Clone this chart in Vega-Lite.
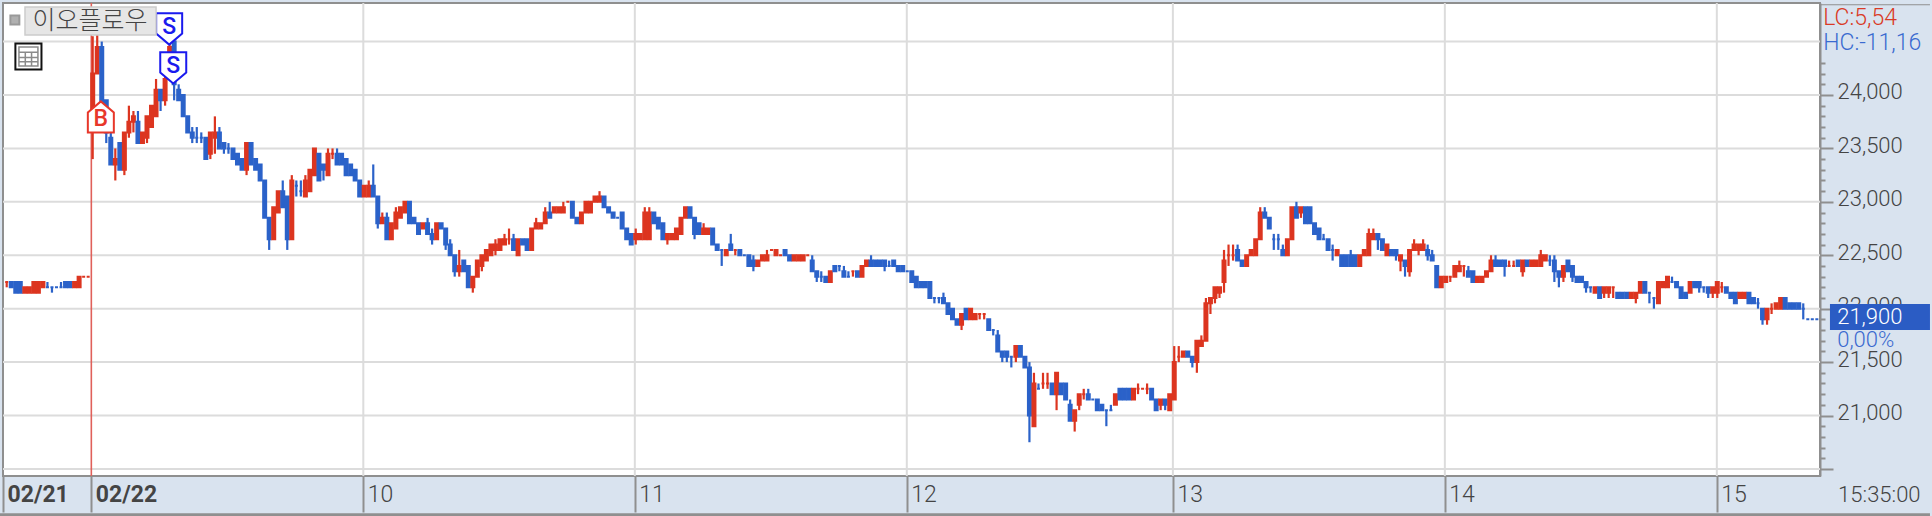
{"$schema":"https://vega.github.io/schema/vega-lite/v6.json","width":1817,"height":473,"autosize":"none","padding":{"left":3,"top":3,"right":112,"bottom":40},"background":"#d9e3ef","config":{"view":{"fill":"#ffffff","stroke":"#8f8f8f","strokeWidth":2}},
"datasets":{"candles":[
{"t":-19,"o":22250,"h":22250,"l":22200,"c":22250,"d":"u"},{"t":-18,"o":22250,"h":22250,"l":22200,"c":22200,"d":"d"},{"t":-17,"o":22250,"h":22250,"l":22150,"c":22150,"d":"d"},{"t":-16,"o":22250,"h":22250,"l":22150,"c":22150,"d":"d"},{"t":-15,"o":22150,"h":22200,"l":22150,"c":22200,"d":"u"},{"t":-14,"o":22150,"h":22200,"l":22150,"c":22200,"d":"u"},{"t":-13,"o":22150,"h":22250,"l":22150,"c":22250,"d":"u"},{"t":-12,"o":22150,"h":22250,"l":22150,"c":22250,"d":"u"},{"t":-11,"o":22200,"h":22250,"l":22200,"c":22250,"d":"u"},{"t":-10,"o":22200,"h":22250,"l":22200,"c":22200,"d":"d"},{"t":-9,"o":22200,"h":22200,"l":22150,"c":22200,"d":"d"},{"t":-8,"o":22200,"h":22200,"l":22200,"c":22200,"d":"d"},{"t":-7,"o":22200,"h":22250,"l":22200,"c":22200,"d":"d"},{"t":-6,"o":22250,"h":22250,"l":22200,"c":22200,"d":"d"},{"t":-5,"o":22250,"h":22250,"l":22200,"c":22200,"d":"d"},{"t":-4,"o":22200,"h":22250,"l":22200,"c":22250,"d":"u"},{"t":-3,"o":22200,"h":22300,"l":22200,"c":22300,"d":"u"},{"t":-2,"o":22300,"h":22300,"l":22300,"c":22300,"d":"u"},{"t":-1,"o":22300,"h":22300,"l":22300,"c":22300,"d":"u"},
{"t":0,"o":23700,"h":24550,"l":23400,"c":24200,"d":"u"},{"t":1,"o":24200,"h":24650,"l":24200,"c":24450,"d":"u"},{"t":2,"o":24450,"h":24500,"l":23900,"c":23900,"d":"d"},{"t":3,"o":23950,"h":23950,"l":23550,"c":23650,"d":"d"},{"t":4,"o":23600,"h":23650,"l":23350,"c":23350,"d":"d"},{"t":5,"o":23350,"h":23500,"l":23200,"c":23400,"d":"u"},{"t":6,"o":23550,"h":23550,"l":23300,"c":23300,"d":"d"},{"t":7,"o":23300,"h":23650,"l":23250,"c":23650,"d":"u"},{"t":8,"o":23650,"h":23900,"l":23600,"c":23750,"d":"u"},{"t":9,"o":23750,"h":23850,"l":23650,"c":23800,"d":"u"},
{"t":10,"o":23750,"h":23850,"l":23550,"c":23550,"d":"d"},{"t":11,"o":23550,"h":23650,"l":23550,"c":23650,"d":"u"},{"t":12,"o":23600,"h":23800,"l":23550,"c":23800,"d":"u"},{"t":13,"o":23700,"h":23900,"l":23700,"c":23900,"d":"u"},{"t":14,"o":23800,"h":24150,"l":23800,"c":24050,"d":"u"},{"t":15,"o":24050,"h":24050,"l":23850,"c":23950,"d":"d"},{"t":16,"o":23950,"h":24200,"l":23900,"c":24150,"d":"u"},{"t":17,"o":24150,"h":24500,"l":24150,"c":24450,"d":"u"},{"t":18,"o":24500,"h":24500,"l":23950,"c":24100,"d":"d"},{"t":19,"o":24050,"h":24100,"l":23950,"c":23950,"d":"d"},
{"t":20,"o":24000,"h":24000,"l":23800,"c":23800,"d":"d"},{"t":21,"o":23800,"h":23800,"l":23650,"c":23650,"d":"d"},{"t":22,"o":23650,"h":23700,"l":23550,"c":23600,"d":"d"},{"t":23,"o":23600,"h":23700,"l":23550,"c":23600,"d":"d"},{"t":24,"o":23600,"h":23650,"l":23550,"c":23600,"d":"d"},{"t":25,"o":23600,"h":23600,"l":23400,"c":23400,"d":"d"},{"t":26,"o":23450,"h":23650,"l":23400,"c":23650,"d":"u"},{"t":27,"o":23600,"h":23800,"l":23450,"c":23650,"d":"u"},{"t":28,"o":23650,"h":23700,"l":23500,"c":23500,"d":"d"},{"t":29,"o":23550,"h":23550,"l":23450,"c":23500,"d":"d"},
{"t":30,"o":23500,"h":23550,"l":23450,"c":23500,"d":"d"},{"t":31,"o":23500,"h":23500,"l":23400,"c":23400,"d":"d"},{"t":32,"o":23450,"h":23450,"l":23350,"c":23350,"d":"d"},{"t":33,"o":23400,"h":23400,"l":23300,"c":23300,"d":"d"},{"t":34,"o":23300,"h":23550,"l":23250,"c":23550,"d":"u"},{"t":35,"o":23550,"h":23550,"l":23350,"c":23350,"d":"d"},{"t":36,"o":23400,"h":23400,"l":23300,"c":23300,"d":"d"},{"t":37,"o":23350,"h":23350,"l":23200,"c":23200,"d":"d"},{"t":38,"o":23200,"h":23200,"l":22850,"c":22850,"d":"d"},{"t":39,"o":22850,"h":22850,"l":22550,"c":22650,"d":"d"},
{"t":40,"o":22650,"h":22950,"l":22650,"c":22950,"d":"u"},{"t":41,"o":22900,"h":23100,"l":22900,"c":23100,"d":"u"},{"t":42,"o":23100,"h":23200,"l":22950,"c":22950,"d":"d"},{"t":43,"o":23050,"h":23050,"l":22550,"c":22650,"d":"d"},{"t":44,"o":22650,"h":23250,"l":22650,"c":23200,"d":"u"},{"t":45,"o":23150,"h":23200,"l":23050,"c":23150,"d":"d"},{"t":46,"o":23100,"h":23200,"l":23050,"c":23100,"d":"d"},{"t":47,"o":23050,"h":23250,"l":23050,"c":23200,"d":"u"},{"t":48,"o":23100,"h":23300,"l":23100,"c":23300,"d":"u"},{"t":49,"o":23250,"h":23500,"l":23250,"c":23500,"d":"u"},
{"t":50,"o":23450,"h":23450,"l":23200,"c":23200,"d":"d"},{"t":51,"o":23350,"h":23350,"l":23200,"c":23300,"d":"d"},{"t":52,"o":23250,"h":23500,"l":23250,"c":23450,"d":"u"},{"t":53,"o":23450,"h":23500,"l":23400,"c":23450,"d":"u"},{"t":54,"o":23450,"h":23500,"l":23350,"c":23350,"d":"d"},{"t":55,"o":23450,"h":23450,"l":23350,"c":23350,"d":"d"},{"t":56,"o":23400,"h":23400,"l":23250,"c":23250,"d":"d"},{"t":57,"o":23350,"h":23350,"l":23250,"c":23250,"d":"d"},{"t":58,"o":23300,"h":23300,"l":23200,"c":23200,"d":"d"},{"t":59,"o":23200,"h":23200,"l":23050,"c":23050,"d":"d"},
{"t":60,"o":23050,"h":23150,"l":23050,"c":23150,"d":"u"},{"t":61,"o":23050,"h":23200,"l":23050,"c":23150,"d":"u"},{"t":62,"o":23150,"h":23350,"l":23050,"c":23050,"d":"d"},{"t":63,"o":23050,"h":23050,"l":22750,"c":22800,"d":"d"},{"t":64,"o":22800,"h":22900,"l":22800,"c":22850,"d":"u"},{"t":65,"o":22850,"h":22900,"l":22650,"c":22650,"d":"d"},{"t":66,"o":22650,"h":22800,"l":22650,"c":22800,"d":"u"},{"t":67,"o":22750,"h":22950,"l":22750,"c":22900,"d":"u"},{"t":68,"o":22850,"h":22950,"l":22850,"c":22950,"d":"u"},{"t":69,"o":22900,"h":23000,"l":22900,"c":23000,"d":"u"},
{"t":70,"o":23000,"h":23000,"l":22800,"c":22800,"d":"d"},{"t":71,"o":22850,"h":22850,"l":22800,"c":22800,"d":"d"},{"t":72,"o":22800,"h":22800,"l":22700,"c":22700,"d":"d"},{"t":73,"o":22750,"h":22800,"l":22750,"c":22800,"d":"u"},{"t":74,"o":22800,"h":22850,"l":22700,"c":22700,"d":"d"},{"t":75,"o":22700,"h":22750,"l":22600,"c":22650,"d":"d"},{"t":76,"o":22650,"h":22800,"l":22650,"c":22800,"d":"u"},{"t":77,"o":22800,"h":22800,"l":22750,"c":22750,"d":"d"},{"t":78,"o":22750,"h":22750,"l":22550,"c":22600,"d":"d"},{"t":79,"o":22600,"h":22650,"l":22500,"c":22500,"d":"d"},
{"t":80,"o":22500,"h":22500,"l":22300,"c":22350,"d":"d"},{"t":81,"o":22350,"h":22550,"l":22300,"c":22400,"d":"u"},{"t":82,"o":22450,"h":22450,"l":22350,"c":22350,"d":"d"},{"t":83,"o":22400,"h":22400,"l":22200,"c":22200,"d":"d"},{"t":84,"o":22200,"h":22300,"l":22150,"c":22300,"d":"u"},{"t":85,"o":22300,"h":22450,"l":22300,"c":22450,"d":"u"},{"t":86,"o":22400,"h":22500,"l":22350,"c":22500,"d":"u"},{"t":87,"o":22450,"h":22550,"l":22450,"c":22550,"d":"u"},{"t":88,"o":22500,"h":22600,"l":22500,"c":22600,"d":"u"},{"t":89,"o":22550,"h":22650,"l":22500,"c":22600,"d":"u"},
{"t":90,"o":22550,"h":22650,"l":22550,"c":22650,"d":"u"},{"t":91,"o":22600,"h":22700,"l":22600,"c":22650,"d":"u"},{"t":92,"o":22650,"h":22750,"l":22600,"c":22650,"d":"u"},{"t":93,"o":22650,"h":22700,"l":22550,"c":22550,"d":"d"},{"t":94,"o":22500,"h":22650,"l":22500,"c":22650,"d":"u"},{"t":95,"o":22650,"h":22650,"l":22600,"c":22600,"d":"d"},{"t":96,"o":22650,"h":22650,"l":22550,"c":22550,"d":"d"},{"t":97,"o":22550,"h":22750,"l":22550,"c":22750,"d":"u"},{"t":98,"o":22750,"h":22850,"l":22750,"c":22800,"d":"u"},{"t":99,"o":22750,"h":22800,"l":22750,"c":22800,"d":"u"},
{"t":100,"o":22800,"h":22950,"l":22800,"c":22900,"d":"u"},{"t":101,"o":22900,"h":23000,"l":22850,"c":22850,"d":"d"},{"t":102,"o":22900,"h":22950,"l":22900,"c":22950,"d":"u"},{"t":103,"o":22900,"h":22950,"l":22900,"c":22950,"d":"u"},{"t":104,"o":22900,"h":23000,"l":22900,"c":22950,"d":"u"},{"t":105,"o":23000,"h":23000,"l":23000,"c":23000,"d":"u"},{"t":106,"o":23000,"h":23000,"l":22850,"c":22850,"d":"d"},{"t":107,"o":22850,"h":22850,"l":22800,"c":22800,"d":"d"},{"t":108,"o":22800,"h":22900,"l":22800,"c":22900,"d":"u"},{"t":109,"o":22900,"h":23000,"l":22900,"c":23000,"d":"u"},
{"t":110,"o":22900,"h":23000,"l":22900,"c":23000,"d":"u"},{"t":111,"o":23000,"h":23050,"l":23000,"c":23050,"d":"u"},{"t":112,"o":23000,"h":23100,"l":23000,"c":23050,"d":"u"},{"t":113,"o":23050,"h":23050,"l":22950,"c":22950,"d":"d"},{"t":114,"o":22950,"h":22950,"l":22900,"c":22900,"d":"d"},{"t":115,"o":22900,"h":22900,"l":22850,"c":22850,"d":"d"},{"t":116,"o":22850,"h":22850,"l":22850,"c":22850,"d":"d"},{"t":117,"o":22900,"h":22900,"l":22750,"c":22750,"d":"d"},{"t":118,"o":22750,"h":22750,"l":22650,"c":22650,"d":"d"},{"t":119,"o":22700,"h":22700,"l":22600,"c":22600,"d":"d"},
{"t":120,"o":22650,"h":22750,"l":22600,"c":22700,"d":"u"},{"t":121,"o":22650,"h":22700,"l":22650,"c":22700,"d":"u"},{"t":122,"o":22650,"h":22950,"l":22650,"c":22900,"d":"u"},{"t":123,"o":22650,"h":22950,"l":22650,"c":22900,"d":"u"},{"t":124,"o":22900,"h":22900,"l":22800,"c":22800,"d":"d"},{"t":125,"o":22850,"h":22850,"l":22750,"c":22750,"d":"d"},{"t":126,"o":22800,"h":22800,"l":22650,"c":22650,"d":"d"},{"t":127,"o":22650,"h":22700,"l":22600,"c":22700,"d":"u"},{"t":128,"o":22650,"h":22700,"l":22650,"c":22700,"d":"u"},{"t":129,"o":22650,"h":22750,"l":22650,"c":22750,"d":"u"},
{"t":130,"o":22700,"h":22850,"l":22700,"c":22850,"d":"u"},{"t":131,"o":22850,"h":22950,"l":22850,"c":22950,"d":"u"},{"t":132,"o":22950,"h":22950,"l":22850,"c":22850,"d":"d"},{"t":133,"o":22850,"h":22850,"l":22650,"c":22700,"d":"d"},{"t":134,"o":22800,"h":22800,"l":22700,"c":22700,"d":"d"},{"t":135,"o":22700,"h":22800,"l":22700,"c":22750,"d":"u"},{"t":136,"o":22700,"h":22750,"l":22700,"c":22750,"d":"u"},{"t":137,"o":22750,"h":22750,"l":22600,"c":22600,"d":"d"},{"t":138,"o":22600,"h":22600,"l":22550,"c":22550,"d":"d"},{"t":139,"o":22550,"h":22550,"l":22400,"c":22550,"d":"d"},
{"t":140,"o":22500,"h":22550,"l":22500,"c":22550,"d":"u"},{"t":141,"o":22600,"h":22700,"l":22550,"c":22550,"d":"d"},{"t":142,"o":22550,"h":22550,"l":22500,"c":22550,"d":"u"},{"t":143,"o":22550,"h":22550,"l":22500,"c":22500,"d":"d"},{"t":144,"o":22500,"h":22500,"l":22500,"c":22500,"d":"d"},{"t":145,"o":22500,"h":22500,"l":22400,"c":22400,"d":"d"},{"t":146,"o":22450,"h":22500,"l":22350,"c":22400,"d":"d"},{"t":147,"o":22400,"h":22450,"l":22400,"c":22450,"d":"u"},{"t":148,"o":22450,"h":22500,"l":22450,"c":22500,"d":"u"},{"t":149,"o":22450,"h":22550,"l":22450,"c":22500,"d":"u"},
{"t":150,"o":22550,"h":22550,"l":22550,"c":22550,"d":"u"},{"t":151,"o":22500,"h":22550,"l":22500,"c":22550,"d":"u"},{"t":152,"o":22500,"h":22500,"l":22500,"c":22500,"d":"u"},{"t":153,"o":22550,"h":22550,"l":22500,"c":22500,"d":"d"},{"t":154,"o":22500,"h":22500,"l":22450,"c":22450,"d":"d"},{"t":155,"o":22450,"h":22500,"l":22450,"c":22500,"d":"u"},{"t":156,"o":22450,"h":22500,"l":22450,"c":22500,"d":"u"},{"t":157,"o":22450,"h":22500,"l":22450,"c":22500,"d":"u"},{"t":158,"o":22500,"h":22500,"l":22500,"c":22500,"d":"u"},{"t":159,"o":22450,"h":22500,"l":22350,"c":22350,"d":"d"},
{"t":160,"o":22350,"h":22350,"l":22250,"c":22300,"d":"d"},{"t":161,"o":22300,"h":22350,"l":22250,"c":22300,"d":"d"},{"t":162,"o":22300,"h":22300,"l":22250,"c":22250,"d":"d"},{"t":163,"o":22250,"h":22350,"l":22250,"c":22350,"d":"u"},{"t":164,"o":22400,"h":22400,"l":22350,"c":22350,"d":"d"},{"t":165,"o":22400,"h":22400,"l":22350,"c":22400,"d":"d"},{"t":166,"o":22350,"h":22400,"l":22300,"c":22300,"d":"d"},{"t":167,"o":22300,"h":22350,"l":22300,"c":22300,"d":"d"},{"t":168,"o":22350,"h":22350,"l":22300,"c":22350,"d":"u"},{"t":169,"o":22350,"h":22350,"l":22300,"c":22300,"d":"d"},
{"t":170,"o":22300,"h":22400,"l":22300,"c":22400,"d":"u"},{"t":171,"o":22400,"h":22450,"l":22400,"c":22450,"d":"u"},{"t":172,"o":22450,"h":22500,"l":22400,"c":22400,"d":"d"},{"t":173,"o":22450,"h":22450,"l":22400,"c":22400,"d":"d"},{"t":174,"o":22450,"h":22450,"l":22400,"c":22400,"d":"d"},{"t":175,"o":22450,"h":22450,"l":22350,"c":22400,"d":"d"},{"t":176,"o":22400,"h":22450,"l":22400,"c":22400,"d":"d"},{"t":177,"o":22450,"h":22450,"l":22400,"c":22400,"d":"d"},{"t":178,"o":22400,"h":22400,"l":22350,"c":22350,"d":"d"},{"t":179,"o":22400,"h":22400,"l":22350,"c":22350,"d":"d"},
{"t":180,"o":22350,"h":22350,"l":22350,"c":22350,"d":"d"},{"t":181,"o":22350,"h":22350,"l":22250,"c":22250,"d":"d"},{"t":182,"o":22300,"h":22300,"l":22200,"c":22200,"d":"d"},{"t":183,"o":22250,"h":22250,"l":22200,"c":22200,"d":"d"},{"t":184,"o":22250,"h":22250,"l":22200,"c":22200,"d":"d"},{"t":185,"o":22250,"h":22250,"l":22100,"c":22100,"d":"d"},{"t":186,"o":22100,"h":22100,"l":22050,"c":22100,"d":"d"},{"t":187,"o":22100,"h":22100,"l":22050,"c":22100,"d":"d"},{"t":188,"o":22100,"h":22150,"l":22050,"c":22050,"d":"d"},{"t":189,"o":22050,"h":22050,"l":21950,"c":21950,"d":"d"},
{"t":190,"o":22000,"h":22000,"l":21900,"c":21900,"d":"d"},{"t":191,"o":21900,"h":21900,"l":21850,"c":21850,"d":"d"},{"t":192,"o":21850,"h":21950,"l":21800,"c":21950,"d":"u"},{"t":193,"o":22000,"h":22000,"l":21900,"c":21900,"d":"d"},{"t":194,"o":21900,"h":22000,"l":21900,"c":22000,"d":"u"},{"t":195,"o":21900,"h":21950,"l":21900,"c":21950,"d":"u"},{"t":196,"o":21950,"h":21950,"l":21900,"c":21950,"d":"u"},{"t":197,"o":21950,"h":21950,"l":21900,"c":21950,"d":"u"},{"t":198,"o":21900,"h":21900,"l":21800,"c":21800,"d":"d"},{"t":199,"o":21800,"h":21800,"l":21750,"c":21800,"d":"d"},
{"t":200,"o":21750,"h":21800,"l":21600,"c":21600,"d":"d"},{"t":201,"o":21600,"h":21600,"l":21500,"c":21550,"d":"d"},{"t":202,"o":21600,"h":21600,"l":21500,"c":21550,"d":"d"},{"t":203,"o":21550,"h":21550,"l":21450,"c":21550,"d":"d"},{"t":204,"o":21550,"h":21650,"l":21500,"c":21650,"d":"u"},{"t":205,"o":21650,"h":21650,"l":21550,"c":21550,"d":"d"},{"t":206,"o":21550,"h":21550,"l":21450,"c":21450,"d":"d"},{"t":207,"o":21450,"h":21500,"l":20750,"c":21000,"d":"d"},{"t":208,"o":20900,"h":21400,"l":20900,"c":21300,"d":"u"},{"t":209,"o":21250,"h":21300,"l":21250,"c":21250,"d":"d"},
{"t":210,"o":21300,"h":21400,"l":21250,"c":21300,"d":"u"},{"t":211,"o":21300,"h":21400,"l":21250,"c":21300,"d":"u"},{"t":212,"o":21300,"h":21300,"l":21200,"c":21200,"d":"d"},{"t":213,"o":21200,"h":21400,"l":21050,"c":21400,"d":"u"},{"t":214,"o":21300,"h":21300,"l":21200,"c":21200,"d":"d"},{"t":215,"o":21300,"h":21300,"l":21150,"c":21150,"d":"d"},{"t":216,"o":21100,"h":21150,"l":20950,"c":20950,"d":"d"},{"t":217,"o":20950,"h":21050,"l":20850,"c":21050,"d":"u"},{"t":218,"o":21100,"h":21200,"l":21050,"c":21200,"d":"u"},{"t":219,"o":21200,"h":21250,"l":21150,"c":21200,"d":"u"},
{"t":220,"o":21200,"h":21250,"l":21150,"c":21150,"d":"d"},{"t":221,"o":21150,"h":21150,"l":21150,"c":21150,"d":"d"},{"t":222,"o":21150,"h":21150,"l":21050,"c":21050,"d":"d"},{"t":223,"o":21100,"h":21100,"l":21050,"c":21050,"d":"d"},{"t":224,"o":21050,"h":21050,"l":20900,"c":21050,"d":"d"},{"t":225,"o":21050,"h":21100,"l":21050,"c":21050,"d":"d"},{"t":226,"o":21100,"h":21200,"l":21100,"c":21200,"d":"u"},{"t":227,"o":21250,"h":21250,"l":21150,"c":21150,"d":"d"},{"t":228,"o":21250,"h":21250,"l":21150,"c":21150,"d":"d"},{"t":229,"o":21250,"h":21250,"l":21150,"c":21150,"d":"d"},
{"t":230,"o":21150,"h":21250,"l":21150,"c":21250,"d":"u"},{"t":231,"o":21250,"h":21300,"l":21200,"c":21250,"d":"u"},{"t":232,"o":21250,"h":21250,"l":21250,"c":21250,"d":"u"},{"t":233,"o":21250,"h":21300,"l":21200,"c":21250,"d":"u"},{"t":234,"o":21250,"h":21250,"l":21150,"c":21150,"d":"d"},{"t":235,"o":21150,"h":21150,"l":21050,"c":21050,"d":"d"},{"t":236,"o":21100,"h":21150,"l":21050,"c":21150,"d":"u"},{"t":237,"o":21150,"h":21150,"l":21050,"c":21100,"d":"d"},{"t":238,"o":21050,"h":21200,"l":21050,"c":21200,"d":"u"},{"t":239,"o":21150,"h":21650,"l":21150,"c":21500,"d":"u"},
{"t":240,"o":21550,"h":21650,"l":21500,"c":21550,"d":"u"},{"t":241,"o":21550,"h":21600,"l":21550,"c":21600,"d":"u"},{"t":242,"o":21600,"h":21600,"l":21550,"c":21550,"d":"d"},{"t":243,"o":21550,"h":21550,"l":21450,"c":21500,"d":"d"},{"t":244,"o":21500,"h":21700,"l":21400,"c":21700,"d":"u"},{"t":245,"o":21650,"h":21750,"l":21650,"c":21700,"d":"u"},{"t":246,"o":21700,"h":22100,"l":21700,"c":22050,"d":"u"},{"t":247,"o":22050,"h":22100,"l":21950,"c":22100,"d":"u"},{"t":248,"o":22100,"h":22200,"l":22050,"c":22200,"d":"u"},{"t":249,"o":22150,"h":22200,"l":22100,"c":22200,"d":"u"},
{"t":250,"o":22250,"h":22550,"l":22150,"c":22450,"d":"u"},{"t":251,"o":22500,"h":22600,"l":22400,"c":22500,"d":"u"},{"t":252,"o":22500,"h":22600,"l":22450,"c":22500,"d":"u"},{"t":253,"o":22550,"h":22600,"l":22450,"c":22450,"d":"d"},{"t":254,"o":22450,"h":22450,"l":22400,"c":22400,"d":"d"},{"t":255,"o":22400,"h":22500,"l":22400,"c":22500,"d":"u"},{"t":256,"o":22500,"h":22550,"l":22500,"c":22550,"d":"u"},{"t":257,"o":22500,"h":22650,"l":22500,"c":22650,"d":"u"},{"t":258,"o":22650,"h":22950,"l":22650,"c":22900,"d":"u"},{"t":259,"o":22900,"h":22950,"l":22850,"c":22850,"d":"d"},
{"t":260,"o":22850,"h":22850,"l":22750,"c":22750,"d":"d"},{"t":261,"o":22650,"h":22700,"l":22550,"c":22650,"d":"d"},{"t":262,"o":22650,"h":22700,"l":22550,"c":22650,"d":"d"},{"t":263,"o":22550,"h":22600,"l":22500,"c":22500,"d":"d"},{"t":264,"o":22500,"h":22650,"l":22500,"c":22650,"d":"u"},{"t":265,"o":22650,"h":22950,"l":22650,"c":22950,"d":"u"},{"t":266,"o":22950,"h":23000,"l":22850,"c":22850,"d":"d"},{"t":267,"o":22900,"h":22950,"l":22850,"c":22950,"d":"u"},{"t":268,"o":22950,"h":22950,"l":22800,"c":22800,"d":"d"},{"t":269,"o":22950,"h":22950,"l":22800,"c":22800,"d":"d"},
{"t":270,"o":22800,"h":22800,"l":22700,"c":22700,"d":"d"},{"t":271,"o":22750,"h":22750,"l":22650,"c":22650,"d":"d"},{"t":272,"o":22650,"h":22700,"l":22650,"c":22650,"d":"d"},{"t":273,"o":22650,"h":22650,"l":22550,"c":22550,"d":"d"},{"t":274,"o":22550,"h":22600,"l":22450,"c":22550,"d":"d"},{"t":275,"o":22500,"h":22550,"l":22500,"c":22550,"d":"u"},{"t":276,"o":22500,"h":22500,"l":22400,"c":22400,"d":"d"},{"t":277,"o":22500,"h":22500,"l":22400,"c":22400,"d":"d"},{"t":278,"o":22500,"h":22550,"l":22400,"c":22400,"d":"d"},{"t":279,"o":22500,"h":22500,"l":22400,"c":22400,"d":"d"},
{"t":280,"o":22400,"h":22500,"l":22400,"c":22500,"d":"u"},{"t":281,"o":22500,"h":22550,"l":22500,"c":22550,"d":"u"},{"t":282,"o":22500,"h":22750,"l":22500,"c":22700,"d":"u"},{"t":283,"o":22650,"h":22750,"l":22650,"c":22700,"d":"u"},{"t":284,"o":22700,"h":22700,"l":22550,"c":22650,"d":"d"},{"t":285,"o":22650,"h":22650,"l":22550,"c":22550,"d":"d"},{"t":286,"o":22500,"h":22600,"l":22500,"c":22600,"d":"u"},{"t":287,"o":22550,"h":22550,"l":22500,"c":22500,"d":"d"},{"t":288,"o":22550,"h":22550,"l":22450,"c":22500,"d":"d"},{"t":289,"o":22450,"h":22500,"l":22350,"c":22500,"d":"u"},
{"t":290,"o":22450,"h":22450,"l":22300,"c":22400,"d":"d"},{"t":291,"o":22350,"h":22550,"l":22300,"c":22550,"d":"u"},{"t":292,"o":22550,"h":22650,"l":22550,"c":22600,"d":"u"},{"t":293,"o":22550,"h":22600,"l":22500,"c":22600,"d":"u"},{"t":294,"o":22550,"h":22650,"l":22550,"c":22600,"d":"u"},{"t":295,"o":22550,"h":22600,"l":22450,"c":22500,"d":"d"},{"t":296,"o":22500,"h":22550,"l":22450,"c":22450,"d":"d"},{"t":297,"o":22400,"h":22400,"l":22200,"c":22200,"d":"d"},{"t":298,"o":22200,"h":22300,"l":22200,"c":22300,"d":"u"},{"t":299,"o":22250,"h":22300,"l":22250,"c":22300,"d":"u"},
{"t":300,"o":22300,"h":22300,"l":22250,"c":22300,"d":"u"},{"t":301,"o":22300,"h":22400,"l":22300,"c":22400,"d":"u"},{"t":302,"o":22350,"h":22450,"l":22350,"c":22400,"d":"u"},{"t":303,"o":22400,"h":22400,"l":22300,"c":22400,"d":"u"},{"t":304,"o":22350,"h":22400,"l":22300,"c":22300,"d":"d"},{"t":305,"o":22350,"h":22350,"l":22250,"c":22250,"d":"d"},{"t":306,"o":22250,"h":22300,"l":22250,"c":22300,"d":"u"},{"t":307,"o":22250,"h":22300,"l":22250,"c":22300,"d":"u"},{"t":308,"o":22300,"h":22350,"l":22300,"c":22350,"d":"u"},{"t":309,"o":22350,"h":22500,"l":22350,"c":22450,"d":"u"},
{"t":310,"o":22450,"h":22500,"l":22400,"c":22400,"d":"d"},{"t":311,"o":22450,"h":22450,"l":22400,"c":22400,"d":"d"},{"t":312,"o":22450,"h":22450,"l":22300,"c":22400,"d":"d"},{"t":313,"o":22400,"h":22450,"l":22400,"c":22400,"d":"u"},{"t":314,"o":22400,"h":22450,"l":22400,"c":22400,"d":"u"},{"t":315,"o":22450,"h":22450,"l":22400,"c":22400,"d":"d"},{"t":316,"o":22350,"h":22450,"l":22300,"c":22450,"d":"u"},{"t":317,"o":22450,"h":22450,"l":22400,"c":22400,"d":"d"},{"t":318,"o":22400,"h":22450,"l":22400,"c":22450,"d":"u"},{"t":319,"o":22400,"h":22450,"l":22400,"c":22450,"d":"u"},
{"t":320,"o":22400,"h":22550,"l":22400,"c":22500,"d":"u"},{"t":321,"o":22450,"h":22500,"l":22450,"c":22500,"d":"u"},{"t":322,"o":22450,"h":22500,"l":22400,"c":22450,"d":"d"},{"t":323,"o":22450,"h":22500,"l":22250,"c":22350,"d":"d"},{"t":324,"o":22350,"h":22350,"l":22200,"c":22300,"d":"d"},{"t":325,"o":22300,"h":22400,"l":22250,"c":22400,"d":"u"},{"t":326,"o":22450,"h":22450,"l":22350,"c":22350,"d":"d"},{"t":327,"o":22400,"h":22400,"l":22250,"c":22300,"d":"d"},{"t":328,"o":22300,"h":22300,"l":22250,"c":22250,"d":"d"},{"t":329,"o":22300,"h":22300,"l":22250,"c":22250,"d":"d"},
{"t":330,"o":22250,"h":22250,"l":22150,"c":22200,"d":"d"},{"t":331,"o":22200,"h":22200,"l":22150,"c":22200,"d":"d"},{"t":332,"o":22150,"h":22200,"l":22150,"c":22200,"d":"u"},{"t":333,"o":22200,"h":22200,"l":22100,"c":22100,"d":"d"},{"t":334,"o":22150,"h":22200,"l":22100,"c":22200,"d":"u"},{"t":335,"o":22150,"h":22200,"l":22100,"c":22200,"d":"u"},{"t":336,"o":22200,"h":22200,"l":22100,"c":22200,"d":"u"},{"t":337,"o":22150,"h":22150,"l":22100,"c":22100,"d":"d"},{"t":338,"o":22150,"h":22150,"l":22100,"c":22100,"d":"d"},{"t":339,"o":22150,"h":22150,"l":22100,"c":22100,"d":"d"},
{"t":340,"o":22100,"h":22150,"l":22100,"c":22150,"d":"u"},{"t":341,"o":22100,"h":22150,"l":22050,"c":22150,"d":"u"},{"t":342,"o":22150,"h":22250,"l":22150,"c":22250,"d":"u"},{"t":343,"o":22250,"h":22250,"l":22150,"c":22150,"d":"d"},{"t":344,"o":22150,"h":22150,"l":22050,"c":22150,"d":"d"},{"t":345,"o":22100,"h":22100,"l":22000,"c":22100,"d":"d"},{"t":346,"o":22050,"h":22250,"l":22050,"c":22250,"d":"u"},{"t":347,"o":22200,"h":22250,"l":22200,"c":22250,"d":"u"},{"t":348,"o":22200,"h":22300,"l":22200,"c":22300,"d":"u"},{"t":349,"o":22250,"h":22300,"l":22250,"c":22250,"d":"d"},
{"t":350,"o":22250,"h":22250,"l":22200,"c":22200,"d":"d"},{"t":351,"o":22200,"h":22200,"l":22100,"c":22100,"d":"d"},{"t":352,"o":22150,"h":22150,"l":22100,"c":22100,"d":"d"},{"t":353,"o":22150,"h":22250,"l":22150,"c":22250,"d":"u"},{"t":354,"o":22250,"h":22250,"l":22200,"c":22200,"d":"d"},{"t":355,"o":22250,"h":22250,"l":22150,"c":22200,"d":"d"},{"t":356,"o":22200,"h":22200,"l":22150,"c":22200,"d":"d"},{"t":357,"o":22200,"h":22200,"l":22100,"c":22150,"d":"d"},{"t":358,"o":22150,"h":22200,"l":22100,"c":22200,"d":"u"},{"t":359,"o":22150,"h":22250,"l":22100,"c":22250,"d":"u"},
{"t":360,"o":22200,"h":22250,"l":22150,"c":22200,"d":"u"},{"t":361,"o":22200,"h":22200,"l":22150,"c":22150,"d":"d"},{"t":362,"o":22150,"h":22150,"l":22100,"c":22100,"d":"d"},{"t":363,"o":22150,"h":22150,"l":22050,"c":22050,"d":"d"},{"t":364,"o":22100,"h":22150,"l":22100,"c":22150,"d":"u"},{"t":365,"o":22100,"h":22150,"l":22100,"c":22150,"d":"u"},{"t":366,"o":22150,"h":22150,"l":22050,"c":22050,"d":"d"},{"t":367,"o":22100,"h":22100,"l":22050,"c":22050,"d":"d"},{"t":368,"o":22050,"h":22100,"l":22000,"c":22050,"d":"d"},{"t":369,"o":22000,"h":22000,"l":21850,"c":21900,"d":"d"},
{"t":370,"o":21900,"h":22000,"l":21850,"c":22000,"d":"u"},{"t":371,"o":22000,"h":22050,"l":21950,"c":22000,"d":"u"},{"t":372,"o":22000,"h":22050,"l":22000,"c":22050,"d":"u"},{"t":373,"o":22000,"h":22100,"l":22000,"c":22100,"d":"u"},{"t":374,"o":22100,"h":22100,"l":22000,"c":22000,"d":"d"},{"t":375,"o":22050,"h":22050,"l":22000,"c":22000,"d":"d"},{"t":376,"o":22050,"h":22050,"l":22000,"c":22000,"d":"d"},{"t":377,"o":22050,"h":22050,"l":22000,"c":22000,"d":"d"},{"t":378,"o":22000,"h":22050,"l":21900,"c":22000,"d":"d"},{"t":379,"o":21900,"h":21900,"l":21900,"c":21900,"d":"d"},{"t":380,"o":21900,"h":21900,"l":21900,"c":21900,"d":"d"},{"t":381,"o":21900,"h":21900,"l":21900,"c":21900,"d":"d"}
]},
"layer":[
{"data":{"values":[{"p":20500},{"p":21000},{"p":21500},{"p":22000},{"p":22500},{"p":23000},{"p":23500},{"p":24000},{"p":24500}]},"mark":{"type":"rule","color":"#dcdcdc","strokeWidth":2},"encoding":{"y":{"field":"p","type":"quantitative","scale":{"domain":[20434,24861],"nice":false,"zero":false},"axis":{"orient":"right","title":null,"tickCount":100,"values":[20500,20600,20700,20800,20900,21000,21100,21200,21300,21400,21500,21600,21700,21800,21900,22000,22100,22200,22300,22400,22500,22600,22700,22800,22900,23000,23100,23200,23300,23400,23500,23600,23700,23800,23900,24000,24100,24200,24300],"grid":false,"domain":true,"domainColor":"#8f8f8f","domainWidth":2,"tickColor":"#8f8f8f","tickWidth":2,"tickSize":{"condition":{"test":"datum.value%500==0","value":13},"value":5},"labelExpr":"datum.value%500==0&&datum.value>20500?format(datum.value,','):''","labelFont":"Roboto","labelFontWeight":300,"labelFontSize":22,"labelColor":"#444444","labelPadding":4,"labelOffset":-3,"labelOverlap":false,"labelBound":false,"labelFlush":false}}}},
{"data":{"values":[{"t":59.8},{"t":119.8},{"t":179.9},{"t":238.7},{"t":298.8},{"t":358.9}]},"mark":{"type":"rule","color":"#dcdcdc","strokeWidth":2},"encoding":{"x":{"field":"t","type":"quantitative","scale":{"domain":[-19.82,381.7],"nice":false,"zero":false,"padding":0},"axis":{"title":null,"tickCount":100,"values":[-19.82,-0.3,59.8,119.8,179.9,238.7,298.8,358.9],"grid":false,"domain":false,"tickColor":"#8f8f8f","tickWidth":2,"tickSize":36,"labelExpr":"datum.value<-10?'02/21':datum.value<10?'02/22':datum.value<100?'10':datum.value<150?'11':datum.value<200?'12':datum.value<250?'13':datum.value<320?'14':'15'","labelFont":"Roboto","labelFontSize":23,"labelColor":"#444444","labelFontWeight":{"condition":{"test":"datum.value<10","value":"bold"},"value":300},"labelAlign":"left","labelBaseline":"middle","labelPadding":-18,"labelOffset":4,"labelOverlap":false,"labelBound":false,"labelFlush":false}}}},
{"data":{"values":[{"t":-0.3}]},"mark":{"type":"rule","color":"#e0605a","strokeWidth":1.6},"encoding":{"x":{"field":"t","type":"quantitative"}}},
{"data":{"name":"candles"},"mark":{"type":"rule","strokeWidth":2.2},"encoding":{"x":{"field":"t","type":"quantitative"},"y":{"field":"l","type":"quantitative"},"y2":{"field":"h"},"color":{"field":"d","type":"nominal","legend":null,"scale":{"domain":["u","d"],"range":["#dc3520","#2b62c9"]}}}},
{"data":{"name":"candles"},"mark":{"type":"bar","size":3,"strokeWidth":2},"encoding":{"x":{"field":"t","type":"quantitative"},"y":{"field":"o","type":"quantitative"},"y2":{"field":"c"},"color":{"field":"d","type":"nominal","legend":null},"stroke":{"field":"d","type":"nominal","legend":null,"scale":{"domain":["u","d"],"range":["#dc3520","#2b62c9"]}}}},
{"data":{"values":[{"t":1.8,"p":23794}]},"mark":{"type":"point","filled":true,"fill":"#ffffff","stroke":"#e8372a","strokeWidth":2,"opacity":1,"size":676,"shape":"M-1,1.2H1V-0.35L0,-1.2L-1,-0.35Z"},"encoding":{"x":{"field":"t","type":"quantitative"},"y":{"field":"p","type":"quantitative"}}},
{"data":{"values":[{"t":16.9,"p":24618},{"t":17.8,"p":24253}]},"mark":{"type":"point","filled":true,"fill":"#ffffff","stroke":"#1a1aee","strokeWidth":2,"opacity":1,"size":676,"shape":"M-1,-1.2H1V0.35L0,1.2L-1,0.35Z"},"encoding":{"x":{"field":"t","type":"quantitative"},"y":{"field":"p","type":"quantitative"}}},
{"data":{"values":[{"t":1.8,"p":23775,"s":"B"}]},"mark":{"type":"text","font":"Roboto","fontWeight":500,"fontSize":23,"color":"#e8372a"},"encoding":{"x":{"field":"t","type":"quantitative"},"y":{"field":"p","type":"quantitative"},"text":{"field":"s"}}},
{"data":{"values":[{"t":16.9,"p":24640,"s":"S"},{"t":17.8,"p":24275,"s":"S"}]},"mark":{"type":"text","font":"Roboto","fontWeight":500,"fontSize":23,"color":"#1a1aee"},"encoding":{"x":{"field":"t","type":"quantitative"},"y":{"field":"p","type":"quantitative"},"text":{"field":"s"}}},
{"data":{"values":[{"t":-14.96,"t2":14,"p":24824,"p2":24562}]},"mark":{"type":"rect","fill":"#e6e6e6","stroke":"#cccccc","strokeWidth":1.5},"encoding":{"x":{"field":"t","type":"quantitative"},"x2":{"field":"t2"},"y":{"field":"p","type":"quantitative"},"y2":{"field":"p2"}}},
{"data":{"values":[{"t":-0.6,"p":24693,"s":"이오플로우"}]},"mark":{"type":"text","font":"Noto Sans CJK KR","fontSize":25,"fontWeight":300,"color":"#444444"},"encoding":{"x":{"field":"t","type":"quantitative"},"y":{"field":"p","type":"quantitative"},"text":{"field":"s"}}},
{"data":{"values":[{"t":-17.2,"p":24702}]},"mark":{"type":"square","size":80,"filled":true,"fill":"#b0b0b0","stroke":"#999999","opacity":1},"encoding":{"x":{"field":"t","type":"quantitative"},"y":{"field":"p","type":"quantitative"}}},
{"data":{"values":[{"t":-14.2,"p":24360}]},"mark":{"type":"point","filled":false,"stroke":"#8a8a8a","strokeWidth":1.5,"opacity":1,"size":360,"shape":"M-1,-1H1V1H-1Z M-1,-0.45H1 M-1,0.1H1 M-1,0.55H1 M-0.33,-0.45V1 M0.33,-0.45V1"},"encoding":{"x":{"field":"t","type":"quantitative"},"y":{"field":"p","type":"quantitative"}}},
{"data":{"values":[{"t":-14.2,"p":24360}]},"mark":{"type":"square","filled":false,"stroke":"#111111","strokeWidth":2,"opacity":1,"size":680},"encoding":{"x":{"field":"t","type":"quantitative"},"y":{"field":"p","type":"quantitative"}}},
{"data":{"values":[{"t":383.9,"t2":406,"p":21800,"p2":21612}]},"mark":{"type":"rect","fill":"#d9e3ef"},"encoding":{"x":{"field":"t","type":"quantitative"},"x2":{"field":"t2"},"y":{"field":"p","type":"quantitative"},"y2":{"field":"p2"}}},
{"data":{"values":[{"t":383.9,"t2":406,"p":22043,"p2":21800}]},"mark":{"type":"rect","fill":"#2b5cc4"},"encoding":{"x":{"field":"t","type":"quantitative"},"x2":{"field":"t2"},"y":{"field":"p","type":"quantitative"},"y2":{"field":"p2"}}},
{"data":{"values":[{"t":381.7,"t2":406,"p":24850,"p2":24840},{"t":-20.5,"t2":406,"p":20085,"p2":20050}]},"mark":{"type":"rect","fill":"#8f8f8f"},"encoding":{"x":{"field":"t","type":"quantitative"},"x2":{"field":"t2"},"y":{"field":"p","type":"quantitative"},"y2":{"field":"p2"}}},
{"data":{"values":[{"t":385.5,"p":21921,"s":"21,900"}]},"mark":{"type":"text","align":"left","font":"Roboto","fontWeight":300,"fontSize":22,"color":"#ffffff"},"encoding":{"x":{"field":"t","type":"quantitative"},"y":{"field":"p","type":"quantitative"},"text":{"field":"s"}}},
{"data":{"values":[{"t":385.5,"p":21706,"s":"0,00%"}]},"mark":{"type":"text","align":"left","font":"Roboto","fontWeight":300,"fontSize":22,"color":"#3a6ad0"},"encoding":{"x":{"field":"t","type":"quantitative"},"y":{"field":"p","type":"quantitative"},"text":{"field":"s"}}},
{"data":{"values":[{"t":382.4,"p":24487,"s":"HC:-11,16"}]},"mark":{"type":"text","align":"left","font":"Roboto","fontWeight":300,"fontSize":23,"color":"#3a6ad0"},"encoding":{"x":{"field":"t","type":"quantitative"},"y":{"field":"p","type":"quantitative"},"text":{"field":"s"}}},
{"data":{"values":[{"t":382.4,"p":24721,"s":"LC:5,54"}]},"mark":{"type":"text","align":"left","font":"Roboto","fontWeight":300,"fontSize":23,"color":"#d93a26"},"encoding":{"x":{"field":"t","type":"quantitative"},"y":{"field":"p","type":"quantitative"},"text":{"field":"s"}}},
{"data":{"values":[{"t":385.7,"p":20255,"s":"15:35:00"}]},"mark":{"type":"text","align":"left","font":"Roboto","fontWeight":300,"fontSize":22,"color":"#444444"},"encoding":{"x":{"field":"t","type":"quantitative"},"y":{"field":"p","type":"quantitative"},"text":{"field":"s"}}}
]}
